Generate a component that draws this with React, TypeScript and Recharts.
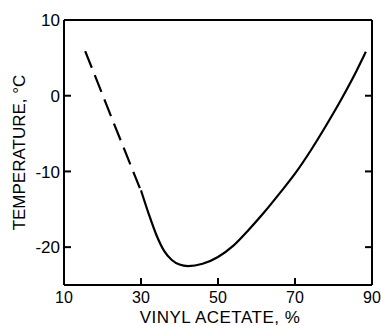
import { Label, Line, LineChart, XAxis, YAxis } from "recharts";

const xTicks = [10, 30, 50, 70, 90];
const yTicks = [-20, -10, 0, 10];
const innerTicks = [-20, -10, 0];

// extrapolated part of the curve (dashed)
const dashedX = [15.5, 22.6, 29.7];
const dashedY = [5.9, -3.2, -12.2];

// measured part of the curve (solid)
const solidX = [30, 32, 34, 36, 38, 40, 42.2, 46, 50, 54, 58, 62, 66, 70, 74, 78, 82, 86, 88.4];
const solidY = [-12.5, -15.6, -18.4, -20.5, -21.7, -22.3, -22.5, -22.2, -21.3, -19.8, -17.7, -15.4, -12.9, -10.3, -7.3, -4.0, -0.5, 3.3, 5.8];

const dashed = dashedX.map((x, i) => ({ x, y: dashedY[i] }));
const solid = solidX.map((x, i) => ({ x, y: solidY[i] }));

const font = "'Liberation Sans', Arial, sans-serif";
const axisStyle = { stroke: "#000", strokeWidth: 2 };
const TICK = 7;
const GAP = 3;

// ticks point into the plot, as in the printed figure
const LeftTick = ({ x, y, payload }: any) => (
  <g>
    <line x1={x + GAP} x2={x + GAP + TICK} y1={y} y2={y} stroke="#000" strokeWidth={2} />
    <text x={x - 1} y={y} dy="0.36em" textAnchor="end" fill="#000" fontSize={17} fontFamily={font}>
      {payload.value}
    </text>
  </g>
);

const BottomTick = ({ x, y, payload }: any) => (
  <g>
    <line x1={x} x2={x} y1={y - GAP} y2={y - GAP - TICK} stroke="#000" strokeWidth={2} />
    <text x={x} y={y + 14.5} textAnchor="middle" fill="#000" fontSize={16} fontFamily={font}>
      {payload.value}
    </text>
  </g>
);

const RightTick = ({ x, y }: any) => (
  <line x1={x - GAP} x2={x - GAP - TICK} y1={y} y2={y} stroke="#000" strokeWidth={2} />
);

export default function App() {
  return (
    <div style={{ position: "absolute", left: 0, top: 0, background: "#fff" }}>
      <LineChart width={381} height={326} margin={{ top: 19, right: 8, bottom: 0, left: 0 }}>
        <XAxis
          xAxisId="b"
          type="number"
          dataKey="x"
          domain={[10, 90]}
          ticks={xTicks}
          height={41}
          axisLine={axisStyle}
          tickLine={false}
          tickSize={0}
          tickMargin={GAP}
          tick={<BottomTick />}
          interval={0}
        >
          <Label
            content={({ viewBox }: any) => (
              <text
                x={viewBox.x + viewBox.width / 2 + 2}
                y={323}
                textAnchor="middle"
                fill="#000"
                fontSize={17}
                fontFamily={font}
                letterSpacing={0.5}
              >
                VINYL ACETATE, %
              </text>
            )}
          />
        </XAxis>
        {/* same scale as the bottom axis, draws the top frame */}
        <XAxis
          xAxisId="t"
          orientation="top"
          type="number"
          dataKey="x"
          domain={[10, 90]}
          height={1}
          axisLine={axisStyle}
          tick={false}
          tickLine={false}
        />
        <YAxis
          yAxisId="l"
          type="number"
          domain={[-25, 10]}
          ticks={yTicks}
          width={64}
          axisLine={axisStyle}
          tickLine={false}
          tickSize={0}
          tickMargin={GAP}
          tick={<LeftTick />}
          interval={0}
        >
          <Label
            content={({ viewBox }: any) => {
              const cx = 25;
              const cy = viewBox.y + viewBox.height / 2;
              return (
                <text
                  x={cx}
                  y={cy}
                  transform={`rotate(-90 ${cx} ${cy})`}
                  textAnchor="middle"
                  fill="#000"
                  fontSize={17}
                  fontFamily={font}
                >
                  TEMPERATURE, °C
                </text>
              );
            }}
          />
        </YAxis>
        {/* same scale as the left axis, draws the right frame with inward ticks */}
        <YAxis
          yAxisId="r"
          orientation="right"
          type="number"
          domain={[-25, 10]}
          ticks={innerTicks}
          width={1}
          axisLine={axisStyle}
          tickLine={false}
          tickSize={0}
          tickMargin={GAP}
          tick={<RightTick />}
          interval={0}
        />
        <Line
          xAxisId="t"
          yAxisId="r"
          data={dashed}
          dataKey="y"
          type="linear"
          stroke="#000"
          strokeWidth={2.2}
          strokeDasharray="18 8"
          dot={false}
          isAnimationActive={false}
        />
        <Line
          xAxisId="b"
          yAxisId="l"
          data={solid}
          dataKey="y"
          type="monotone"
          stroke="#000"
          strokeWidth={2.2}
          dot={false}
          isAnimationActive={false}
        />
      </LineChart>
    </div>
  );
}
